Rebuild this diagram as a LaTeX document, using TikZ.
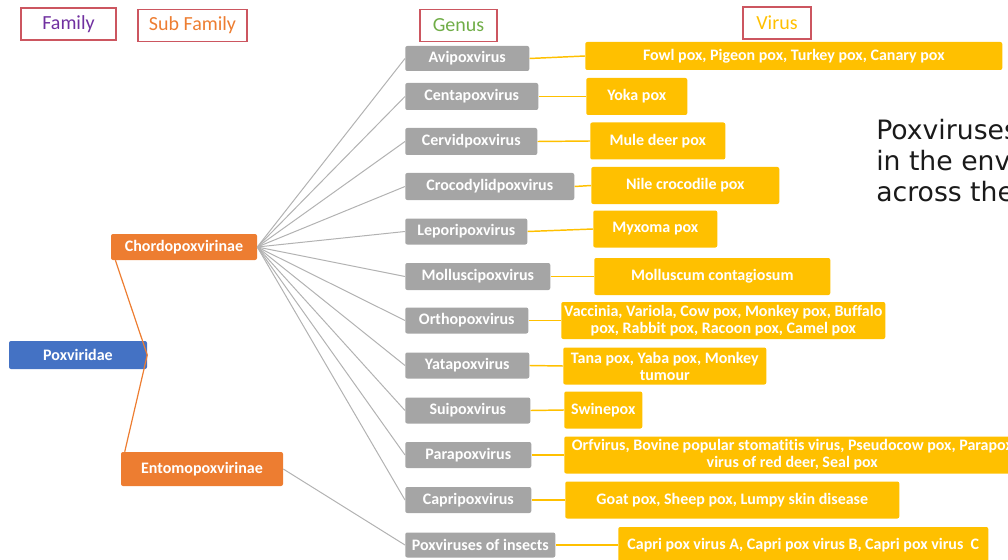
\documentclass[tikz,border=0pt]{standalone}
\usepackage{fontspec}
\setmainfont{Carlito}[Ligatures=CommonOff]
\newfontfamily\sidefont{DejaVu Sans}
\usepackage{tikz}
\usetikzlibrary{calc}

\definecolor{hdrred}{RGB}{204,86,96}
\definecolor{famblue}{RGB}{68,114,196}
\definecolor{suborange}{RGB}{237,125,49}
\definecolor{genusgray}{RGB}{165,165,165}
\definecolor{virusgold}{RGB}{255,192,0}
\definecolor{headpurple}{RGB}{112,48,160}
\definecolor{headgreen}{RGB}{112,173,71}
\definecolor{linegray}{RGB}{178,178,178}

\tikzset{
  hdr/.style={draw=hdrred, line width=0.8pt, inner sep=0pt, minimum height=24pt, font=\fontsize{15}{17}\selectfont},
  famnode/.style={fill=famblue, text=white, rounded corners=1.5pt, inner sep=0pt, font=\bfseries\fontsize{12}{13}\selectfont},
  subnode/.style={fill=suborange, text=white, rounded corners=1.5pt, inner sep=0pt, font=\bfseries\fontsize{12}{13}\selectfont},
  genusnode/.style={fill=genusgray, text=white, rounded corners=1.5pt, inner sep=0pt, anchor=west, minimum height=19.5pt, font=\bfseries\fontsize{12}{13}\selectfont},
  virusnode/.style={fill=virusgold, text=white, rounded corners=1.5pt, inner sep=0pt, anchor=west, minimum height=27.75pt, align=center, font=\bfseries\fontsize{12}{12.75}\selectfont},
  grayline/.style={draw=linegray, line width=0.75pt},
  goldline/.style={draw=virusgold, line width=1.1pt},
  orangeline/.style={draw=suborange, line width=0.9pt}
}

\begin{document}
\begin{tikzpicture}[x=0.75pt,y=0.75pt,yscale=-1,xscale=1]
\useasboundingbox (0,0) rectangle (1008,560);

% Header boxes
\node (hfamily) at (68.5,24) [hdr, minimum width=71.25pt, text=headpurple] {Family};
\node (hsubfamily) at (192.5,25.5) [hdr, minimum width=81.75pt, text=suborange] {Sub Family};
\node (hgenus) at (458.5,25.5) [hdr, minimum width=57.75pt, text=headgreen] {Genus};
\node (hvirus) at (777,23) [hdr, minimum width=51pt, text=virusgold] {Virus};

% Family and sub families
\node (poxviridae) at (78,355) [famnode, minimum width=103.5pt, minimum height=21pt] {Poxviridae};
\node (chordo) at (184,247) [subnode, minimum width=109.5pt, minimum height=19.5pt] {Chordopoxvirinae};
\node (entomo) at (202,469) [subnode, minimum width=121.5pt, minimum height=25.5pt] {Entomopoxvirinae};

% Genus nodes
\node (avi) at (405,58.5) [genusnode, minimum width=93pt, minimum height=18.75pt] {Avipoxvirus};
\node (centa) at (405,96.5) [genusnode, minimum width=99.75pt, minimum height=20.25pt] {Centapoxvirus};
\node (cervid) at (405,141.5) [genusnode, minimum width=99pt, minimum height=20.25pt] {Cervidpoxvirus};
\node (croco) at (405,186.5) [genusnode, minimum width=126.75pt, minimum height=20.25pt] {Crocodylidpoxvirus};
\node (lepori) at (405,231.5) [genusnode, minimum width=91.5pt] {Leporipoxvirus};
\node (mollusci) at (405,276.5) [genusnode, minimum width=108.75pt, minimum height=20.25pt] {Molluscipoxvirus};
\node (ortho) at (405,320.5) [genusnode, minimum width=92.25pt] {Orthopoxvirus};
\node (yata) at (405,365.5) [genusnode, minimum width=93pt] {Yatapoxvirus};
\node (sui) at (405,410.5) [genusnode, minimum width=93.75pt] {Suipoxvirus};
\node (para) at (405,455) [genusnode, minimum width=94.5pt] {Parapoxvirus};
\node (capri) at (405,500) [genusnode, minimum width=94.5pt] {Capripoxvirus};
\node (insects) at (405,545) [genusnode, minimum width=112.5pt, minimum height=18.75pt] {Poxviruses of insects};

% Virus nodes
\node (fowl) at (585,56) [virusnode, minimum width=312.75pt, minimum height=21pt] {Fowl pox, Pigeon pox, Turkey pox, Canary pox};
\node (yoka) at (586,96.5) [virusnode, minimum width=75.75pt] {Yoka pox};
\node (mule) at (590,141) [virusnode, minimum width=101.25pt] {Mule deer pox};
\node (nile) at (591,185.5) [virusnode, minimum width=141pt] {Nile crocodile pox};
\node (myxoma) at (593,229) [virusnode, minimum width=93pt] {Myxoma pox};
\node (molluscum) at (594,276.5) [virusnode, minimum width=177pt] {Molluscum contagiosum};
\node (vaccinia) at (561,320.5) [virusnode, minimum width=243pt] {Vaccinia, Variola, Cow pox, Monkey pox, Buffalo\\pox, Rabbit pox, Racoon pox, Camel pox};
\node (tana) at (563,366) [virusnode, minimum width=152.25pt] {Tana pox, Yaba pox, Monkey\\tumour};
\node (swine) at (564,410) [virusnode, minimum width=58.5pt] {Swinepox};
\node (orf) at (564,455) [virusnode, minimum width=342pt] {Orfvirus, Bovine popular stomatitis virus, Pseudocow pox, Parapox\\virus of red deer, Seal pox};
\node (goat) at (565,500) [virusnode, minimum width=250.5pt] {Goat pox, Sheep pox, Lumpy skin disease};
\node (capripox) at (618,545) [virusnode, minimum width=277.5pt, minimum height=27pt] {Capri pox virus A, Capri pox virus B, Capri pox virus~ C};

% Side text
\node (sidetext) at (876,201) [anchor=base west, inner sep=0pt, align=left, text={rgb,255:red,26;green,26;blue,26}, font=\sidefont\fontsize{20}{23}\selectfont] {Poxviruses\\in the env\\across the};

%Straight Lines family to sub families
\draw [orangeline] (poxviridae.east) -- ([xshift=3.5pt]chordo.south west);
\draw [orangeline] (poxviridae.east) -- ([xshift=3pt]entomo.north west);

%Straight Lines sub families to genus
\foreach \g in {avi,centa,cervid,croco,lepori,mollusci,ortho,yata,sui,para,capri}
  \draw [grayline] (chordo.east) -- (\g.west);
\draw [grayline] (entomo.east) -- (insects.west);

%Straight Lines genus to virus
\draw [goldline] (avi.east) -- (fowl.west);
\draw [goldline] (centa.east) -- (yoka.west);
\draw [goldline] (cervid.east) -- (mule.west);
\draw [goldline] (croco.east) -- (nile.west);
\draw [goldline] (lepori.east) -- (myxoma.west);
\draw [goldline] (mollusci.east) -- (molluscum.west);
\draw [goldline] (ortho.east) -- (vaccinia.west);
\draw [goldline] (yata.east) -- (tana.west);
\draw [goldline] (sui.east) -- (swine.west);
\draw [goldline] (para.east) -- (orf.west);
\draw [goldline] (capri.east) -- (goat.west);
\draw [goldline] (insects.east) -- (capripox.west);

\end{tikzpicture}
\end{document}
